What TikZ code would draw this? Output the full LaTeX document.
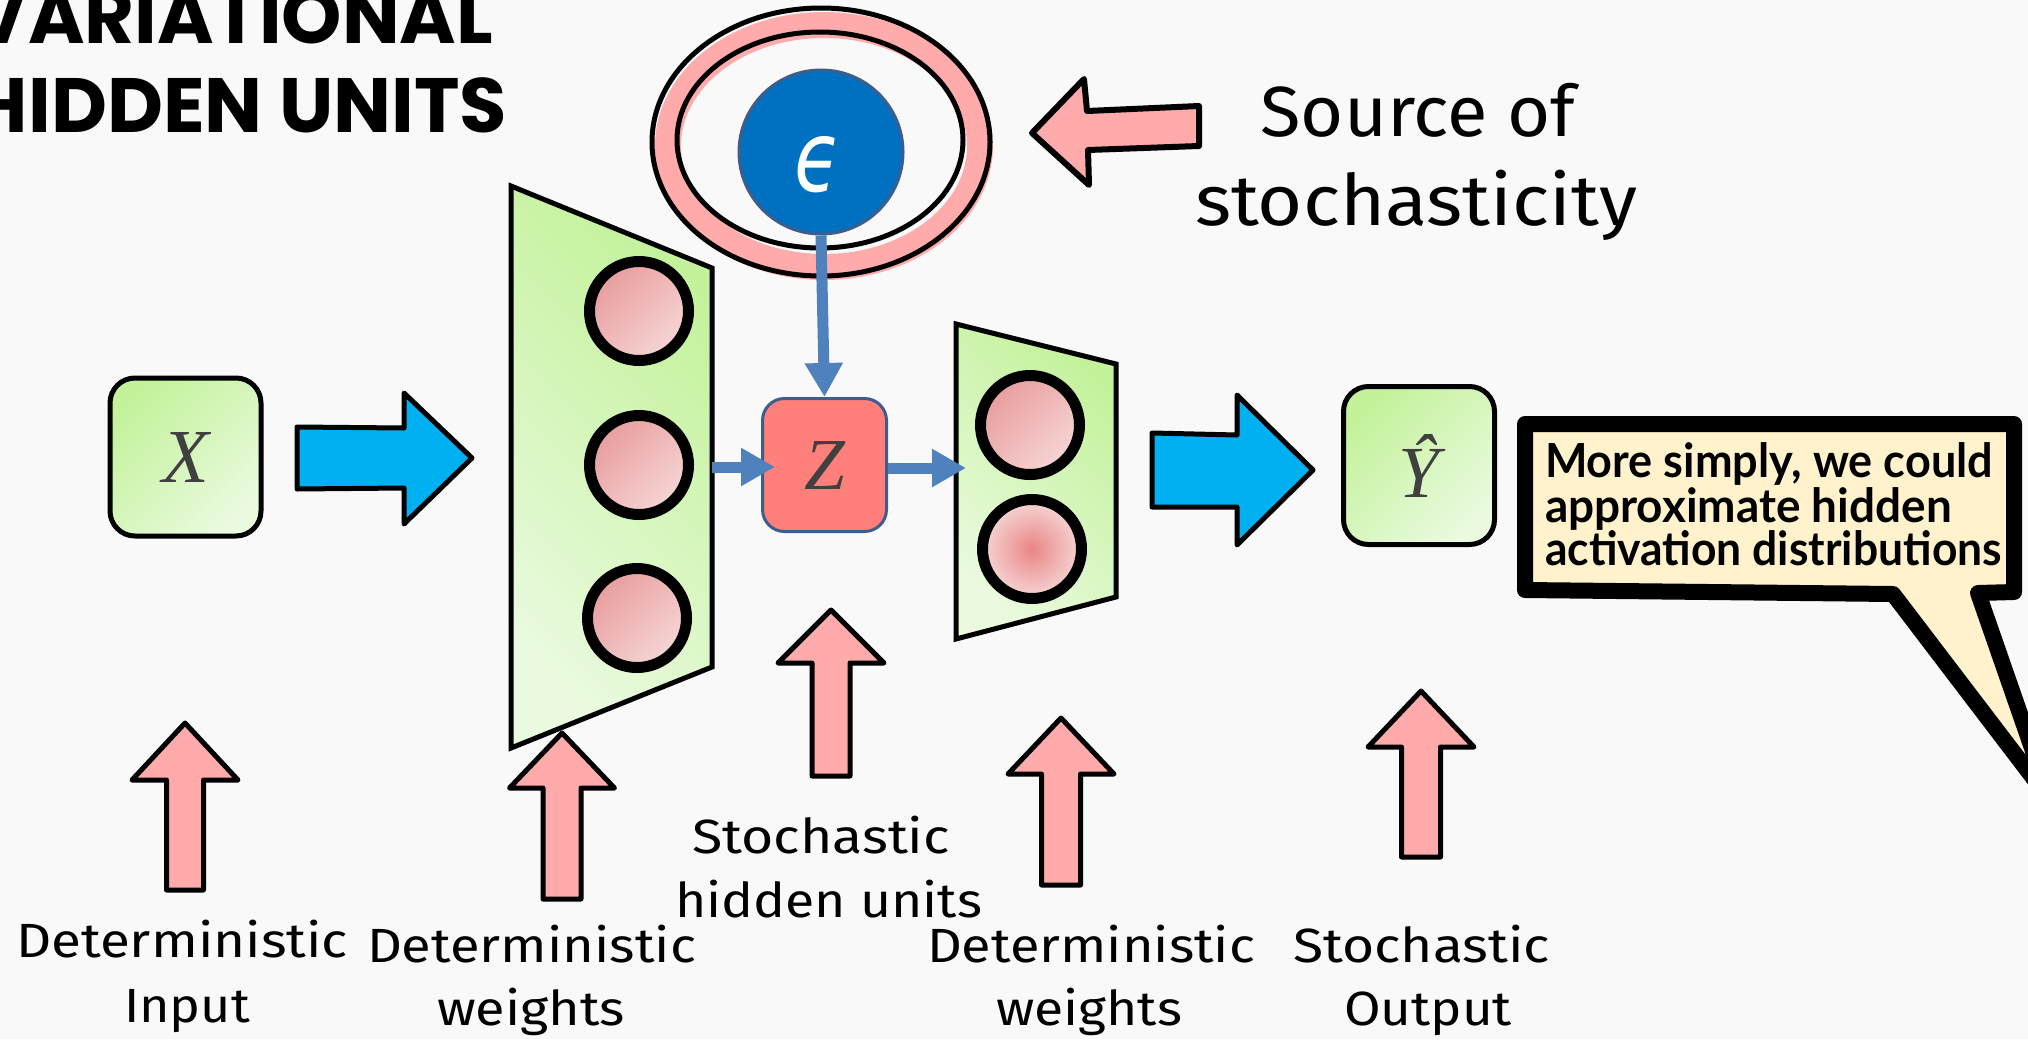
\documentclass[tikz,border=0pt]{standalone}
\usepackage{fontspec}
\usepackage{graphicx}
\usetikzlibrary{arrows.meta,calc}

\newfontfamily\titlefont{Poppins}
\newfontfamily\labelfont{Fira Sans}
\newfontfamily\notefont{Lato}
\newfontfamily\varfont{Liberation Serif}
\newfontfamily\epsfont{DejaVu Sans}

\definecolor{bg}{HTML}{F9F9F9}
\definecolor{leafA}{HTML}{C3F29B}
\definecolor{leafB}{HTML}{EAFADF}
\definecolor{roseA}{HTML}{E89C9C}
\definecolor{roseB}{HTML}{F6D6D6}
\definecolor{roseC}{HTML}{E98585}
\definecolor{salmon}{HTML}{FF7F7A}
\definecolor{steel}{HTML}{3D5E8C}
\definecolor{conn}{HTML}{4F81BD}
\definecolor{sky}{HTML}{00B0F0}
\definecolor{blush}{HTML}{FFABAB}
\definecolor{deep}{HTML}{0070C0}
\definecolor{cream}{HTML}{FFF2CC}
\definecolor{ink}{HTML}{404040}

% set a text box to an exact width, keeping the font's height
\newsavebox\fitbox
\newlength\fitlen
\newcommand\fitw[2]{\sbox\fitbox{#2}\setlength\fitlen{\wd\fitbox}%
  \pgfmathsetmacro\fitratio{#1/\fitlen}\scalebox{\fitratio}[1]{\usebox\fitbox}}

% up-pointing block arrow: tip x, tip y, head base y, head half width, shaft half width, bottom y
\newcommand\uparrowshape[6]{%
  \draw[pinkarrow] (#1,#2) -- (#1+#4,#3) -- (#1+#5,#3) -- (#1+#5,#6)
    -- (#1-#5,#6) -- (#1-#5,#3) -- (#1-#4,#3) -- cycle;}

\tikzset{
  txt/.style={inner sep=0pt, outer sep=0pt},
  lbl/.style={txt, anchor=base, font=\labelfont\fontsize{48}{50}\selectfont},
  note/.style={txt, anchor=base west, font=\notefont\bfseries\fontsize{47}{50}\selectfont},
  neuron/.style={circle, draw=black, line width=11pt, minimum size=99pt, inner sep=0pt,
    top color=roseA, bottom color=roseB, shading angle=45},
  varbox/.style={rectangle, rounded corners=25pt, draw=black, line width=5pt,
    minimum width=151pt, minimum height=158pt, inner sep=0pt,
    top color=leafA, bottom color=leafB, shading angle=45, text=ink},
  layer/.style={draw=black, line width=5pt, line join=miter,
    top color=leafA, bottom color=leafB, shading angle=-45},
  pinkarrow/.style={draw=black, fill=blush, line width=5pt, line join=round},
  skyarrow/.style={draw=black, fill=sky, line width=5pt, line join=round},
  bconn/.style={draw=conn, line width=11pt, -{Triangle[length=34pt,width=36pt]}},
}

\begin{document}
\begin{tikzpicture}[x=1pt, y=-1pt]
\useasboundingbox (0,0) rectangle (2028,1039);
\clip (0,0) rectangle (2028,1039);
\fill[bg] (0,0) rectangle (2028,1039);

% heading
\node[txt, anchor=base west] (title1) at (-28,43)
  {\titlefont\bfseries\fontsize{77}{80}\selectfont\fitw{521}{VARIATIONAL}};
\node[txt, anchor=base west] (title2) at (-28,132)
  {\titlefont\bfseries\fontsize{77}{80}\selectfont\fitw{535}{HIDDEN UNITS}};

% ring drawn round the noise source
\draw[blush, line width=26pt] (824,146) ellipse [x radius=156, y radius=121];
\draw[black, line width=5pt] (821,142) ellipse [x radius=169, y radius=134];
\draw[black, line width=5pt] (820,140) ellipse [x radius=143, y radius=108];

% noise source
\node[circle, fill=deep, draw=steel, line width=3pt, minimum size=164pt, inner sep=0pt] (eps) at (821,152) {};
\node[txt, text=white] (epsg) at (818,165) {\epsfont\itshape\resizebox{47pt}{55pt}{ϵ}};

% pointer and caption for the noise source
\draw[pinkarrow, line width=6pt] (1032,133) -- (1084,79) -- (1087,111) -- (1199,106)
  -- (1199,146) -- (1088,150) -- (1089,185) -- cycle;
\node[txt, anchor=base] (srcA) at (1418,136)
  {\labelfont\fontsize{71}{74}\selectfont\fitw{315}{Source of}};
\node[txt, anchor=base] (srcB) at (1416,225)
  {\labelfont\fontsize{71}{74}\selectfont\fitw{442}{stochasticity}};

% input
\node[varbox] (x) at (185.5,457) {\varfont\itshape\resizebox{!}{50pt}{X}};
\draw[skyarrow] (297,427) -- (404,428) -- (404,393) -- (472,458) -- (404,524)
  -- (404,488) -- (297,489) -- cycle;

% first deterministic layer
\path[layer] (511,186) -- (712,268) -- (712,667) -- (511,748) -- cycle;
\node[neuron] (h1) at (639,311) {};
\node[neuron] (h2) at (639,465) {};
\node[neuron] (h3) at (637,618) {};
\coordinate (t1out) at (712,467);

% stochastic unit
\node[rectangle, rounded corners=22pt, fill=salmon, draw=steel, line width=3pt,
  minimum width=124pt, minimum height=133pt, inner sep=0pt, text=ink] (z) at (824.5,465)
  {\varfont\itshape\resizebox{!}{48pt}{Z}};

% second deterministic layer
\path[layer] (956,324) -- (1116,364) -- (1116,597) -- (956,639) -- cycle;
\node[neuron] (g1) at (1030,425) {};
\node[circle, draw=black, line width=11pt, minimum size=99pt, inner sep=0pt,
  inner color=roseC, outer color=roseB] (g2) at (1032,549) {};
\coordinate (t2in) at (956,468);

% connectors through the stochastic unit
\draw[bconn] (eps.south) -- (z.north);
\draw[bconn, shorten >=-14pt] (t1out) -- (t1out -| z.west);
\draw[bconn, shorten >=-10pt] (z.east |- t2in) -- (t2in);

% output
\draw[skyarrow] (1152,433) -- (1237,435) -- (1237,395) -- (1313,470) -- (1237,545)
  -- (1237,507) -- (1152,507) -- cycle;
\node[varbox] (y) at (1419,465.5) {\varfont\itshape\resizebox{!}{63pt}{\^{Y}}};

% speech bubble
\draw[line width=16pt, line join=round, fill=cream] (1525,424) -- (2014,424) -- (2014,592)
  -- (1978,593) -- (2050,800) -- (1893,594) -- (1525,590) -- cycle;
\node[note] (n1) at (1545,477) {\fitw{448}{More simply, we could}};
\node[note] (n2) at (1545,522) {\fitw{407}{approximate hidden}};
\node[note] (n3) at (1545,565) {\fitw{457}{activation distributions}};

% pointers from the captions
\uparrowshape{185}{723}{780}{53}{18.5}{890}
\uparrowshape{562}{733}{788}{52.5}{19}{899}
\uparrowshape{831}{610}{663}{53}{19}{776}
\uparrowshape{1061}{718}{774}{53}{19.5}{885}
\uparrowshape{1421}{691}{747}{53}{19.5}{857}

% captions
\node[lbl] (la1) at (182,957) {\fitw{332}{Deterministic}};
\node[lbl] (la2) at (187,1022) {\fitw{126}{Input}};
\node[lbl] (lb1) at (531.5,962) {\fitw{329}{Deterministic}};
\node[lbl] (lb2) at (531,1025) {\fitw{188}{weights}};
\node[lbl] (lc1) at (821,853) {\fitw{258}{Stochastic}};
\node[lbl] (lc2) at (828.5,917) {\fitw{307}{hidden units}};
\node[lbl] (ld1) at (1091,962) {\fitw{328}{Deterministic}};
\node[lbl] (ld2) at (1089,1025) {\fitw{186}{weights}};
\node[lbl] (le1) at (1421.5,962) {\fitw{257}{Stochastic}};
\node[lbl] (le2) at (1428,1025) {\fitw{168}{Output}};
\end{tikzpicture}
\end{document}
